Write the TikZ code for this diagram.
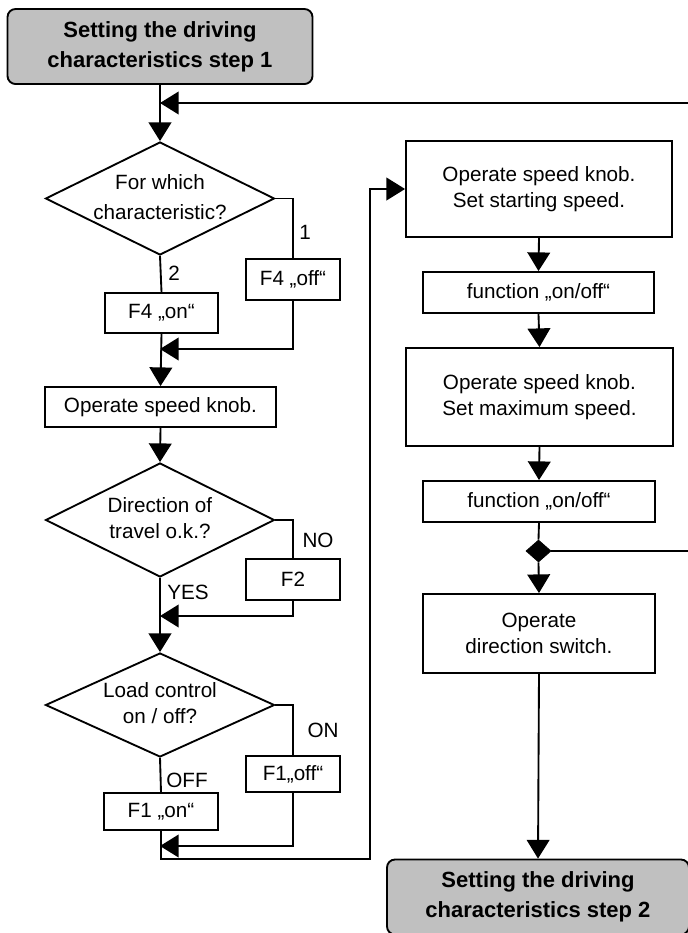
\documentclass[tikz,border=0pt]{standalone}
\usepackage{fontspec}
\setmainfont{Liberation Sans}
\usetikzlibrary{shapes.geometric,arrows.meta}
\definecolor{hdrgray}{RGB}{192,192,192}
\newcommand\dtext[2]{\makebox[0pt]{\begin{tabular}{@{}c@{}}#1\\#2\end{tabular}}}
\begin{document}
\begin{tikzpicture}[x=0.75pt,y=-0.75pt, line width=1.4pt,
  every node/.style={font=\fontsize{15.5}{19}\selectfont, inner sep=0pt},
  box/.style={draw, rectangle, align=center},
  hdr/.style={draw, rectangle, rounded corners=6pt, fill=hdrgray, align=center, font=\fontsize{16.5}{22.5}\selectfont\bfseries},
  dia/.style={draw, diamond, minimum width=171.75pt},
  arr/.style={-{Triangle[length=14pt,width=17pt]}},
  jn/.style={draw, fill=black, diamond, minimum width=18.75pt, minimum height=16.5pt, line width=0.6pt}
]
\useasboundingbox (0,0) rectangle (688,933);
% left column
\node[hdr, minimum width=228.75pt, minimum height=56.25pt] (T) at (160,46.5) {Setting the driving\\characteristics step 1};
\node[dia, minimum height=84.75pt, font=\fontsize{15.5}{22}\selectfont] (D1) at (160,198.5) {\dtext{For which}{characteristic?}};
\node[box, minimum width=70.5pt, minimum height=30.75pt] (F4off) at (293,279.5) {F4 „off“};
\node[box, minimum width=84.75pt, minimum height=30pt] (F4on) at (161.5,313) {F4 „on“};
\node[box, minimum width=173.25pt, minimum height=30pt] (OSK) at (160.5,407) {Operate speed knob.};
\node[dia, minimum height=85.5pt, font=\fontsize{15.5}{20}\selectfont] (D2) at (160,520) {\dtext{Direction of}{travel o.k.?}};
\node[box, minimum width=70.5pt, minimum height=30.75pt] (F2) at (293,579.5) {F2};
\node[dia, minimum height=78pt, font=\fontsize{15.5}{19.5}\selectfont] (D3) at (160,705) {\dtext{Load control}{on / off?}};
\node[box, minimum width=70.5pt, minimum height=27pt] (F1off) at (293,774) {F1„off“};
\node[box, minimum width=85.5pt, minimum height=27.75pt] (F1on) at (161,811.5) {F1 „on“};
% right column
\node[box, minimum width=199.5pt, minimum height=72pt] (A) at (539,189) {Operate speed knob.\\Set starting speed.};
\node[box, minimum width=173.25pt, minimum height=30.75pt] (B) at (538.5,292.5) {function „on/off“};
\node[box, minimum width=200.25pt, minimum height=73.5pt] (C) at (539.5,397) {Operate speed knob.\\Set maximum speed.};
\node[box, minimum width=174pt, minimum height=30.75pt] (D) at (539,501.5) {function „on/off“};
\node[jn] (J) at (538.5,551) {};
\node[box, minimum width=174pt, minimum height=59.25pt] (E) at (539,633.5) {Operate\\direction switch.};
\node[hdr, minimum width=226.5pt, minimum height=56.25pt] (F) at (538,897) {Setting the driving\\characteristics step 2};
% labels
\node (l1) at (305,232) {1};
\node (l2) at (174,273) {2};
\node (lno) at (318,540) {NO};
\node (lyes) at (188,592) {YES};
\node (lon) at (323,730) {ON};
\node (loff) at (187,780) {OFF};
% junction coordinates
\coordinate (m1) at (160,103);
\coordinate (m2) at (160,349);
\coordinate (m3) at (160,616);
\coordinate (m4) at (160,846);
\coordinate (fb) at (696,103);
\coordinate (c1) at (370,859);
% connectors
\draw[arr] (T.south) -- (D1.north);
\draw[arr] (J.east) -| (fb) -- (m1);
\draw (D1.east) -| (F4off.north);
\draw (D1.south) -- (F4on.north);
\draw[arr] (F4off.south) |- (m2);
\draw[arr] (F4on.south) -- (OSK.north);
\draw[arr] (OSK.south) -- (D2.north);
\draw (D2.east) -| (F2.north);
\draw[arr] (F2.south) |- (m3);
\draw[arr] (D2.south) -- (D3.north);
\draw (D3.east) -| (F1off.north);
\draw (D3.south) -- (F1on.north);
\draw[arr] (F1off.south) |- (m4);
\draw[arr] (F1on.south) |- (c1) |- (A.west);
\draw[arr] (A.south) -- (B.north);
\draw[arr] (B.south) -- (C.north);
\draw[arr] (C.south) -- (D.north);
\draw (D.south) -- (J.north);
\draw[arr] (J.south) -- (E.north);
\draw[arr] (E.south) -- (F.north);
\end{tikzpicture}
\end{document}
